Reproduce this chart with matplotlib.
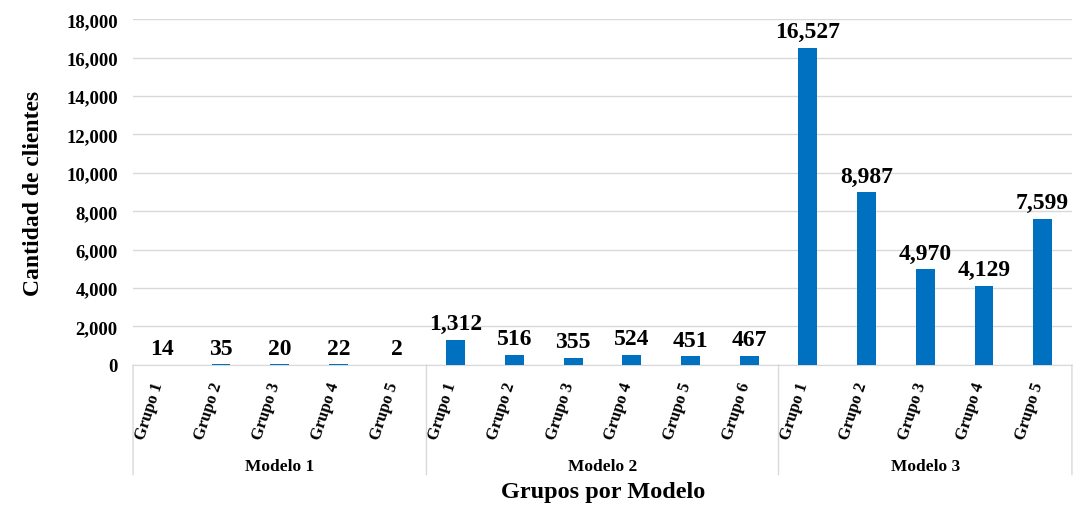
import matplotlib.pyplot as plt
from matplotlib.ticker import FuncFormatter, MultipleLocator

plt.rcParams["font.family"] = ["Liberation Serif", "DejaVu Serif"]
plt.rcParams["font.weight"] = "bold"

modelos = ["Modelo 1", "Modelo 2", "Modelo 3"]
grupos = [
    ["Grupo 1", "Grupo 2", "Grupo 3", "Grupo 4", "Grupo 5"],
    ["Grupo 1", "Grupo 2", "Grupo 3", "Grupo 4", "Grupo 5", "Grupo 6"],
    ["Grupo 1", "Grupo 2", "Grupo 3", "Grupo 4", "Grupo 5"],
]
clientes = [
    [14, 35, 20, 22, 2],
    [1312, 516, 355, 524, 451, 467],
    [16527, 8987, 4970, 4129, 7599],
]

color_barra = "#0070C0"
gris = "#d9d9d9"

fig = plt.figure(figsize=(10.73, 5.06), dpi=100)
ax = fig.add_axes([0.124, 0.277, 0.875, 0.683])

etiquetas = [g for lista in grupos for g in lista]
valores = [v for lista in clientes for v in lista]
xs = list(range(len(valores)))

ax.bar(xs, valores, width=0.32, color=color_barra, zorder=3)
for x, v in zip(xs, valores):
    ax.annotate(f"{v:,}", (x, v), xytext=(0, 4), textcoords="offset points",
                ha="center", va="bottom", fontsize=17, fontweight="bold")

ax.set_xlim(-0.5, len(valores) - 0.5)
ax.set_ylim(0, 18000)
ax.yaxis.set_major_locator(MultipleLocator(2000))
ax.yaxis.set_major_formatter(FuncFormatter(lambda v, _: f"{int(v):,}"))
ax.tick_params(axis="y", length=0, pad=11, labelsize=13.5)
ax.set_xticks([])
ax.grid(axis="y", color=gris, linewidth=1, zorder=0)
for lado in ["top", "right", "left"]:
    ax.spines[lado].set_visible(False)
ax.spines["bottom"].set_color(gris)

# etiquetas de grupo giradas bajo el eje
for x, texto in zip(xs, etiquetas):
    ax.annotate(texto, (x - 0.22, 0), xycoords=("data", "axes fraction"),
                xytext=(0, -11), textcoords="offset points",
                rotation=72, ha="center", va="top", fontsize=12, fontweight="bold")

# separadores y nombres de modelo
bordes = [-0.5]
for lista in grupos:
    bordes.append(bordes[-1] + len(lista))
for b in bordes:
    ax.annotate("", (b, 0), xycoords=("data", "axes fraction"),
                xytext=(b, -0.318), textcoords=("data", "axes fraction"),
                arrowprops=dict(arrowstyle="-", color=gris, lw=1, shrinkA=0, shrinkB=0))
for nombre, a, b in zip(modelos, bordes[:-1], bordes[1:]):
    ax.annotate(nombre, ((a + b) / 2, 0), xycoords=("data", "axes fraction"),
                xytext=(0, -73), textcoords="offset points",
                ha="center", va="center", fontsize=12.5, fontweight="bold")

ax.set_ylabel("Cantidad de clientes", fontsize=17, fontweight="bold", labelpad=16)
fig.text(0.5617, 0.026, "Grupos por Modelo", ha="center", va="center",
         fontsize=17.5, fontweight="bold")

fig.savefig("out.png", dpi=100)
